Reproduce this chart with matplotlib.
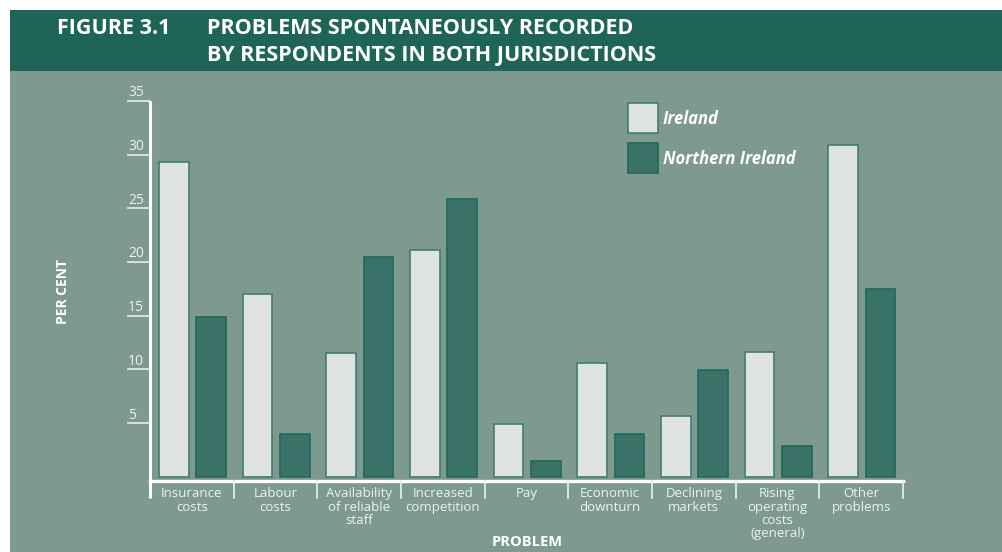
import matplotlib.pyplot as plt
import numpy as np
from matplotlib.patches import Rectangle

# data (per cent)
categories = ["Insurance\ncosts", "Labour\ncosts", "Availability\nof reliable\nstaff",
              "Increased\ncompetition", "Pay", "Economic\ndownturn", "Declining\nmarkets",
              "Rising\noperating\ncosts\n(general)", "Other\nproblems"]
ireland = [29.3, 17.0, 11.5, 21.1, 4.9, 10.6, 5.7, 11.6, 30.9]
northern_ireland = [14.9, 4.0, 20.5, 25.9, 1.5, 4.0, 9.9, 2.9, 17.5]
yticks = [5, 10, 15, 20, 25, 30, 35]

bg = "#7d9990"
banner = "#1e6558"
light = "#dfe4e2"
dark = "#3b7268"
txt = "#eef2f0"

plt.rcParams['font.family'] = ['Open Sans', 'DejaVu Sans']

fig = plt.figure(figsize=(10.03, 5.52), dpi=100)
fig.patch.set_facecolor("white")
W, H = 1003.0, 552.0

# background panel + title banner
fig.patches.append(Rectangle((10 / W, 0), 1 - 10 / W, 1 - 10 / H, transform=fig.transFigure,
                             facecolor=bg, edgecolor="none", zorder=-2))
fig.patches.append(Rectangle((10 / W, 1 - 71 / H), 1 - 10 / W, 61 / H, transform=fig.transFigure,
                             facecolor=banner, edgecolor="none", zorder=-1))
fig.text(57 / W, 1 - 29 / H, "FIGURE 3.1", color="white", fontsize=15.5, fontweight="bold",
         va="center", ha="left")
fig.text(207 / W, 1 - 29 / H, "PROBLEMS SPONTANEOUSLY RECORDED", color="white", fontsize=15.5,
         fontweight="bold", va="center", ha="left")
fig.text(207 / W, 1 - 55 / H, "BY RESPONDENTS IN BOTH JURISDICTIONS", color="white", fontsize=15.5,
         fontweight="bold", va="center", ha="left")

ax = fig.add_axes([150 / W, 1 - 480.5 / H, 753 / W, 379.5 / H])
ax.set_zorder(2)
ax.set_facecolor("none")
for s in ax.spines.values():
    s.set_visible(False)

x = np.arange(len(categories))
bw = 0.355
ax.bar(x - 0.215, ireland, bw, color=light, edgecolor="#3f7e70", linewidth=1.2, zorder=3)
ax.bar(x + 0.23, northern_ireland, bw, color=dark, edgecolor="#1f6a5a", linewidth=1.2, zorder=3)

ax.set_xlim(-0.5, len(categories) - 0.5)
ax.set_ylim(-0.35, 35)
ax.set_xticks([])
ax.set_yticks([])

# axes lines
drop = 17 / 379.5
ax.plot([0, 0], [-drop, 1], transform=ax.transAxes, color="white", lw=2.2, clip_on=False,
        solid_capstyle="butt", zorder=5)
ax.plot([0, 1], [0, 0], transform=ax.transAxes, color="white", lw=2.4, clip_on=False, zorder=5)
for i in range(1, len(categories) + 1):
    ax.plot([i - 0.5, i - 0.5], [0, -drop], transform=ax.get_xaxis_transform(),
            color="#e6ece9", lw=1.3, clip_on=False, zorder=5)

# y ticks drawn as short lines with labels sitting on top
tr = ax.get_yaxis_transform()
tl = 22 / 753
for v in yticks:
    ax.plot([-tl, 0], [v, v], transform=tr, color="#e6ece9", lw=1.2, clip_on=False)
    ax.text(-tl, v + 0.05, str(v), transform=tr, ha="left", va="bottom", fontsize=10,
            color=txt)

for i, c in enumerate(categories):
    ax.text(i, -0.018, c, transform=ax.get_xaxis_transform(), ha="center", va="top",
            fontsize=9.5, color=txt, linespacing=1.02)

fig.text(63 / W, 1 - 291 / H, "PER CENT", rotation=90, color="white", fontsize=10,
         fontweight="bold", ha="center", va="center")
fig.text(527 / W, 1 - 542 / H, "PROBLEM", color="white", fontsize=10.5, fontweight="bold",
         ha="center", va="center")

# legend
for yy, col, ec, lab in [(103, light, "#3f7e70", "Ireland"), (143, dark, "#1f6a5a", "Northern Ireland")]:
    fig.patches.append(Rectangle((628 / W, 1 - (yy + 30) / H), 30 / W, 30 / H, transform=fig.transFigure,
                                 facecolor=col, edgecolor=ec, linewidth=1.2, zorder=3))
    fig.text(663 / W, 1 - (yy + 16) / H, lab, color="white", fontsize=12, fontweight="bold",
             fontstyle="italic", ha="left", va="center")

fig.savefig("out.png", dpi=100, facecolor=fig.get_facecolor())
